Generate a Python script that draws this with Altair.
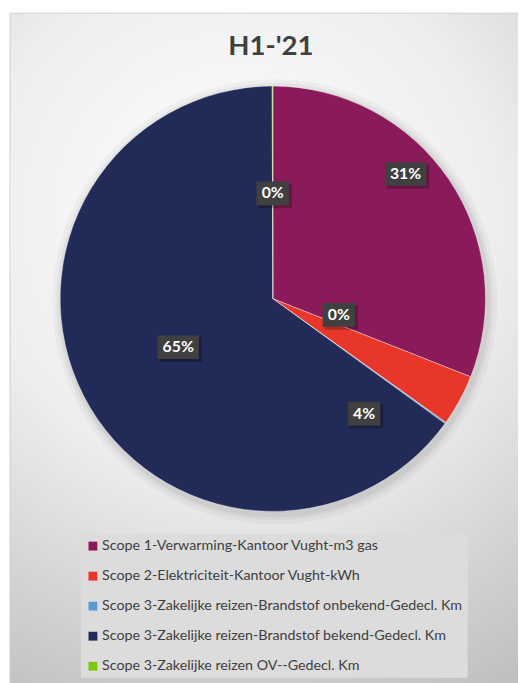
import altair as alt
import pandas as pd

title_text = "H1-'21"
categories = [
    "Scope 1-Verwarming-Kantoor Vught-m3 gas",
    "Scope 2-Elektriciteit-Kantoor Vught-kWh",
    "Scope 3-Zakelijke reizen-Brandstof onbekend-Gedecl. Km",
    "Scope 3-Zakelijke reizen-Brandstof bekend-Gedecl. Km",
    "Scope 3-Zakelijke reizen OV--Gedecl. Km",
]
shares = [31.0, 3.9, 0.1, 65.0, 0.05]
colors = ["#8B1A5A", "#E8372A", "#5B9BD5", "#222A57", "#7AC70C"]

# label layout (distance from centre and angular nudge, Excel "best fit")
label_radius = [185, 149, 69, 108, 107]
label_shift_deg = [-9, 23, -22, 0, 0]

CX, CY, R = 269, 290, 216

df = pd.DataFrame({
    "category": categories,
    "share": shares,
    "order": list(range(len(categories))),
    "lr": label_radius,
    "ls": label_shift_deg,
})

FONT = "Lato"

bg = alt.Chart(pd.DataFrame({"a": [0]})).mark_rect(
    fill=alt.RadialGradient(
        gradient="radial",
        x1=0.45, y1=0.3, r1=0.0,
        x2=0.45, y2=0.3, r2=0.85,
        stops=[
            alt.GradientStop(offset=0, color="#ffffff"),
            alt.GradientStop(offset=0.45, color="#eeeeee"),
            alt.GradientStop(offset=1, color="#b9b9b9"),
        ],
    ),
    stroke="#d2d2d2",
    strokeWidth=1,
).encode(x=alt.value(2), x2=alt.value(530), y=alt.value(0), y2=alt.value(690))

shadows = []
for rr, op in [(226, 0.03), (222, 0.04), (219, 0.05)]:
    shadows.append(
        alt.Chart(pd.DataFrame({"a": [0]})).mark_arc(
            outerRadius=rr, theta=0, theta2=6.2832, color="black", opacity=op
        ).encode(x=alt.value(CX + 2), y=alt.value(CY + 3))
    )

base = alt.Chart(df)

pie = base.mark_arc(outerRadius=R, stroke="white", strokeWidth=0.4).encode(
    theta=alt.Theta("share:Q", stack=True),
    color=alt.Color(
        "category:N",
        scale=alt.Scale(domain=categories, range=colors),
        sort=categories,
        legend=alt.Legend(
            title=None,
            orient="none",
            legendX=74,
            legendY=529,
            fillColor="#dcdcdc",
            padding=5,
            rowPadding=15.5,
            symbolType="square",
            symbolSize=81,
            symbolStrokeWidth=0,
            labelFont=FONT,
            labelFontSize=14.5,
            labelColor="#404040",
            labelLimit=0,
            labelOffset=2,
            direction="vertical",
        ),
    ),
    order=alt.Order("order:Q"),
    x=alt.value(CX),
    y=alt.value(CY),
)

lab = base.transform_joinaggregate(
    total="sum(share)"
).transform_window(
    cum="sum(share)", sort=[alt.SortField("order")], frame=[None, 0]
).transform_calculate(
    mid="(datum.cum - datum.share/2)/datum.total*2*PI + datum.ls*PI/180",
    lx=f"{CX} + datum.lr*sin(datum.mid)",
    ly=f"{CY} - datum.lr*cos(datum.mid)",
    label="format(datum.share/datum.total*100, '.0f') + '%'",
).transform_calculate(
    w="15 + 9*length(datum.label)",
).transform_calculate(
    x1="datum.lx - datum.w/2",
    x2="datum.lx + datum.w/2",
    y1="datum.ly - 12",
    y2="datum.ly + 12",
    sx1="datum.lx - datum.w/2 + 2",
    sx2="datum.lx + datum.w/2 + 3",
    sy1="datum.ly - 10",
    sy2="datum.ly + 15",
)

box_shadow = lab.mark_rect(color="black", opacity=0.25).encode(
    x=alt.X("sx1:Q", scale=None, axis=None),
    x2="sx2:Q",
    y=alt.Y("sy1:Q", scale=None, axis=None),
    y2="sy2:Q",
)
box = lab.mark_rect(color="#404040").encode(
    x=alt.X("x1:Q", scale=None, axis=None),
    x2="x2:Q",
    y=alt.Y("y1:Q", scale=None, axis=None),
    y2="y2:Q",
)
txt = lab.mark_text(
    font=FONT, fontWeight="bold", fontSize=16, color="white", baseline="middle", align="center"
).encode(
    x=alt.X("lx:Q", scale=None, axis=None),
    y=alt.Y("ly:Q", scale=None, axis=None),
    text="label:N",
)

title = alt.Chart(pd.DataFrame({"t": [title_text]})).mark_text(
    font=FONT, fontWeight="bold", fontSize=28, color="#404040", baseline="middle", align="center"
).encode(x=alt.value(267), y=alt.value(34), text="t:N")

chart = alt.layer(bg, *shadows, pie, box_shadow, box, txt, title).properties(
    width=518, height=675, padding=0, autosize="none", background="white"
).configure_view(stroke=None)

chart.save("out.html", embed_options={"renderer": "svg", "actions": False})
